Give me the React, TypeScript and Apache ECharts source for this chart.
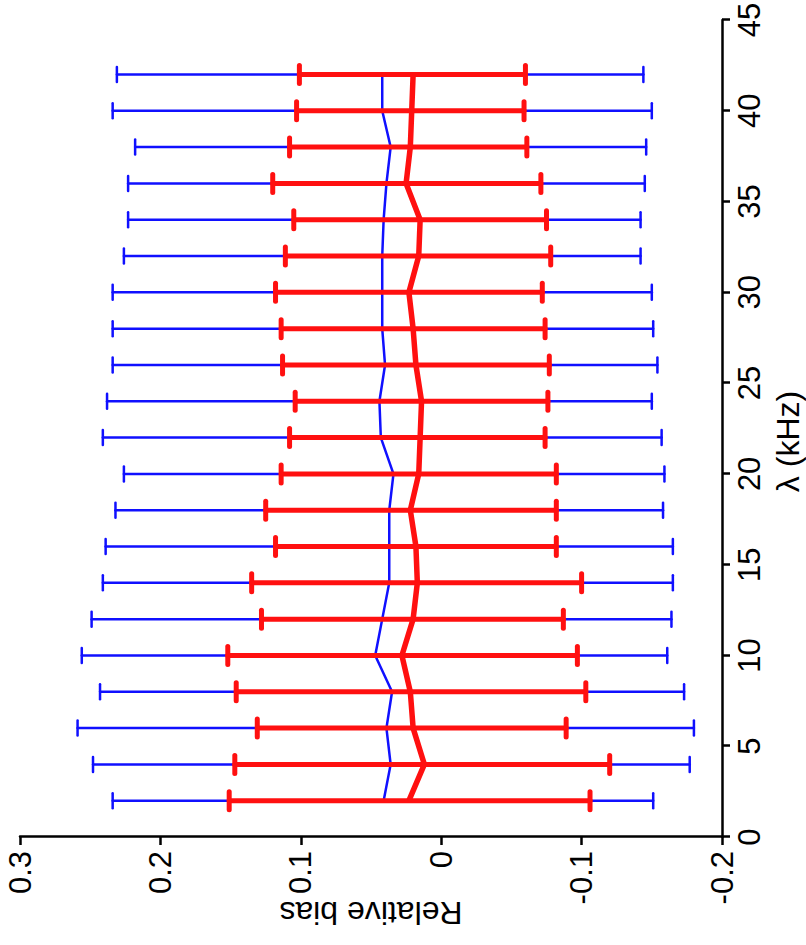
import React, { useEffect, useRef } from "react";
import * as echarts from "echarts";

// Wavelength grid (kHz)
const lambda = [2, 4, 6, 8, 10, 12, 14, 16, 18, 20, 22, 24, 26, 28, 30, 32, 34, 36, 38, 40, 42];

// Blue estimator: mean relative bias and error-bar limits
const blueMean = [0.041, 0.036, 0.039, 0.035, 0.047, 0.042, 0.037, 0.037, 0.037, 0.034, 0.043, 0.044, 0.040, 0.042, 0.042, 0.042, 0.041, 0.039, 0.036, 0.042, 0.042];
const blueUpper = [0.234, 0.248, 0.259, 0.243, 0.256, 0.249, 0.241, 0.239, 0.232, 0.226, 0.241, 0.238, 0.234, 0.234, 0.234, 0.226, 0.223, 0.223, 0.218, 0.234, 0.231];
const blueLower = [-0.151, -0.177, -0.180, -0.173, -0.161, -0.164, -0.165, -0.165, -0.158, -0.159, -0.157, -0.150, -0.154, -0.151, -0.150, -0.142, -0.142, -0.145, -0.146, -0.150, -0.144];

// Red estimator: mean relative bias and error-bar limits
const redMean = [0.023, 0.012, 0.020, 0.022, 0.028, 0.020, 0.017, 0.018, 0.022, 0.016, 0.015, 0.014, 0.018, 0.020, 0.023, 0.016, 0.015, 0.025, 0.022, 0.021, 0.020];
const redUpper = [0.151, 0.147, 0.131, 0.146, 0.152, 0.128, 0.135, 0.118, 0.125, 0.114, 0.108, 0.104, 0.113, 0.114, 0.118, 0.111, 0.105, 0.120, 0.108, 0.103, 0.101];
const redLower = [-0.106, -0.120, -0.089, -0.103, -0.097, -0.087, -0.100, -0.082, -0.082, -0.082, -0.074, -0.076, -0.077, -0.074, -0.072, -0.078, -0.075, -0.071, -0.061, -0.059, -0.060];

const FONT = "'Liberation Sans', Arial, Helvetica, sans-serif";

function errorBars(color: string, width: number, capHalf: number, lower: number[], upper: number[], z: number) {
  return {
    type: "custom",
    z,
    data: lambda.map((l, i) => [l, lower[i], upper[i]]),
    encode: { x: 0, y: [1, 2] },
    renderItem: (_params: any, api: any) => {
      const lo = api.coord([api.value(0), api.value(1)]);
      const hi = api.coord([api.value(0), api.value(2)]);
      const style = { stroke: color, lineWidth: width, lineCap: "round" };
      return {
        type: "group",
        children: [
          { type: "line", shape: { x1: lo[0], y1: lo[1], x2: hi[0], y2: hi[1] }, style },
          { type: "line", shape: { x1: lo[0] - capHalf, y1: lo[1], x2: lo[0] + capHalf, y2: lo[1] }, style },
          { type: "line", shape: { x1: hi[0] - capHalf, y1: hi[1], x2: hi[0] + capHalf, y2: hi[1] }, style },
        ],
      };
    },
  };
}

export default function App() {
  const ref = useRef<HTMLDivElement>(null);

  useEffect(() => {
    if (!ref.current) return;
    const chart = echarts.init(ref.current, null, { renderer: "svg" });
    const axisText = { color: "#000", fontSize: 31, fontFamily: FONT };
    chart.setOption({
      animation: false,
      grid: { left: 108, right: 20, top: 20, bottom: 84, outerBoundsMode: "none", containLabel: false },
      xAxis: {
        type: "value",
        min: 0,
        max: 45,
        interval: 5,
        name: "λ (kHz)",
        nameLocation: "middle",
        nameGap: 50,
        nameMoveOverlap: false,
        nameTextStyle: { color: "#000", fontSize: 32, fontFamily: FONT, padding: [0, 26, 0, 0] },
        axisLine: { show: true, onZero: false, lineStyle: { color: "#000", width: 2.5 } },
        axisTick: { show: true, length: 8, lineStyle: { color: "#000", width: 2.5 } },
        axisLabel: { ...axisText, margin: 12 },
        splitLine: { show: false },
      },
      yAxis: {
        type: "value",
        min: -0.2,
        max: 0.3,
        interval: 0.1,
        name: "Relative bias",
        nameLocation: "middle",
        nameGap: 60,
        nameMoveOverlap: false,
        nameTextStyle: { color: "#000", fontSize: 32, fontFamily: FONT },
        axisLine: { show: true, onZero: false, lineStyle: { color: "#000", width: 2.5 } },
        axisTick: { show: true, length: 8, lineStyle: { color: "#000", width: 2.5 } },
        axisLabel: { ...axisText, margin: 14 },
        splitLine: { show: false },
      },
      series: [
        errorBars("#1010ff", 2.5, 7.5, blueLower, blueUpper, 2),
        {
          type: "line",
          z: 3,
          data: lambda.map((l, i) => [l, blueMean[i]]),
          showSymbol: false,
          lineStyle: { color: "#1010ff", width: 2.5 },
        },
        errorBars("#ff1010", 5, 9, redLower, redUpper, 4),
        {
          type: "line",
          z: 5,
          data: lambda.map((l, i) => [l, redMean[i]]),
          showSymbol: false,
          lineStyle: { color: "#ff1010", width: 5.5 },
        },
      ],
    });
    return () => chart.dispose();
  }, []);

  return (
    <div style={{ position: "fixed", left: 0, top: 0, width: 806, height: 945, overflow: "hidden", background: "#fff" }}>
      <div
        ref={ref}
        style={{
          position: "absolute",
          left: 0,
          top: 0,
          width: 945,
          height: 806,
          transformOrigin: "0 0",
          transform: "translate(0px, 945px) rotate(-90deg)",
        }}
      />
    </div>
  );
}
